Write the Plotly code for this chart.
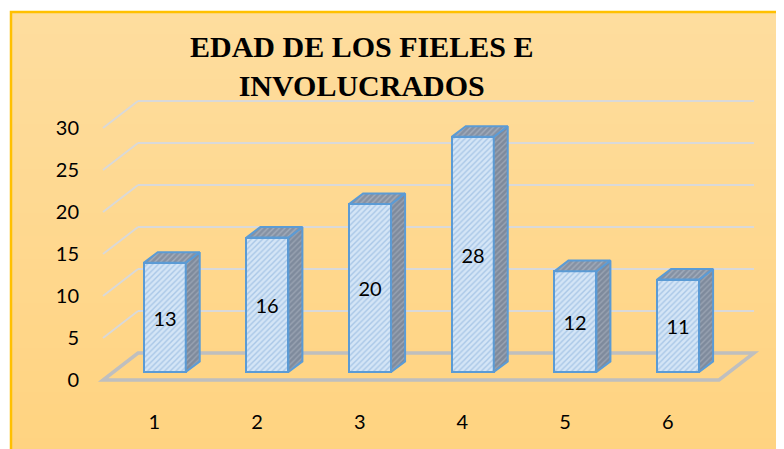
import plotly.graph_objects as go

# ---- data ----
categories = [1, 2, 3, 4, 5, 6]
values = [13, 16, 20, 28, 12, 11]
y_ticks = [0, 5, 10, 15, 20, 25, 30]
title_lines = ["EDAD DE LOS FIELES E", "INVOLUCRADOS"]

# ---- geometry (reference pixel coordinates, page body has an 8px margin) ----
OFF = 8
W, H = 784 - OFF, 449 - OFF
L_PX, R_PX, T_PX, B_PX = 90, 770, 95, 400   # plot area in page px
UX = 102.67     # px per category unit
UY = 8.4        # px per value unit
X0_PX = 103     # x=0.5 position (front floor left)
Y0_PX = 380     # y=0 position (front floor)

xr = [0.5 - (X0_PX - L_PX) / UX, 0.5 + (R_PX - X0_PX) / UX]
yr = [-(B_PX - Y0_PX) / UY, (Y0_PX - T_PX) / UY]

DX = 35 / UX          # depth of floor (x units)
DY = 27 / UY          # depth of floor (y units)
F_OFF_X = 10.4 / UX   # bar front-face offset inside floor depth
F_OFF_Y = 8 / UY
BD_X = 14 / UX        # bar depth
BD_Y = 10.6 / UY
BW = 42 / UX          # bar width


def px_to_paper_x(px):
    return (px - L_PX) / (R_PX - L_PX)


def px_to_paper_y(py):
    return (B_PX - py) / (B_PX - T_PX)


fig = go.Figure()

# side and top faces computed from the values
side_x, side_y, top_x, top_y = [], [], [], []
for c, v in zip(categories, values):
    xc = c + F_OFF_X
    lft, rgt = xc - BW / 2, xc + BW / 2
    b = F_OFF_Y
    side_x += [rgt, rgt + BD_X, rgt + BD_X, rgt, rgt, None]
    side_y += [b, b + BD_Y, b + v + BD_Y, b + v, b, None]
    top_x += [lft, lft + BD_X, rgt + BD_X, rgt, lft, None]
    top_y += [b + v, b + v + BD_Y, b + v + BD_Y, b + v, b + v, None]

fig.add_trace(go.Bar(
    x=[c + F_OFF_X for c in categories],
    y=values,
    base=F_OFF_Y,
    width=BW,
    text=[str(v) for v in values],
    textposition="inside",
    insidetextanchor="middle",
    textangle=0,
    textfont=dict(family="Lato", size=20, color="#000000"),
    marker=dict(
        color="#A9C7E7",
        line=dict(color="#5B9BD5", width=2),
        pattern=dict(shape="/", bgcolor="#D4E5F6", fgcolor="#A9C7E7",
                     size=4, solidity=0.35, fillmode="replace"),
    ),
    hoverinfo="skip",
    showlegend=False,
))

fig.add_trace(go.Scatter(
    x=side_x, y=side_y, mode="lines", fill="toself",
    fillcolor="#7E8A9C",
    fillpattern=dict(shape="/", bgcolor="#7E8A9C", fgcolor="#9AA4B3",
                     size=4, solidity=0.35, fillmode="replace"),
    line=dict(color="#5B9BD5", width=2),
    hoverinfo="skip", showlegend=False,
))
fig.add_trace(go.Scatter(
    x=top_x, y=top_y, mode="lines", fill="toself",
    fillcolor="#8894A6",
    fillpattern=dict(shape="/", bgcolor="#8591A3", fgcolor="#A3ADBC",
                     size=4, solidity=0.35, fillmode="replace"),
    line=dict(color="#5B9BD5", width=2),
    hoverinfo="skip", showlegend=False,
))

shapes = []
# gradient background with gold border
n_bands = 40
top_col = (254, 221, 158)
bot_col = (255, 211, 128)
y_top_px, y_bot_px = 12, 460
for i in range(n_bands):
    t = i / (n_bands - 1)
    col = tuple(round(top_col[k] + (bot_col[k] - top_col[k]) * t) for k in range(3))
    ya = y_top_px + (y_bot_px - y_top_px) * i / n_bands
    yb = y_top_px + (y_bot_px - y_top_px) * (i + 1) / n_bands + 1
    shapes.append(dict(type="rect", xref="paper", yref="paper",
                       x0=px_to_paper_x(11), x1=px_to_paper_x(800),
                       y0=px_to_paper_y(ya), y1=px_to_paper_y(yb),
                       fillcolor="rgb(%d,%d,%d)" % col, line=dict(width=0),
                       layer="below"))
shapes.append(dict(type="rect", xref="paper", yref="paper",
                   x0=px_to_paper_x(11), x1=px_to_paper_x(800),
                   y0=px_to_paper_y(12), y1=px_to_paper_y(470),
                   fillcolor="rgba(0,0,0,0)",
                   line=dict(color="#FFC000", width=2.5), layer="below"))

# back wall gridlines + left wall diagonals
x_front_l, x_front_r = 0.5, len(categories) + 0.5
for v in y_ticks[1:]:
    shapes.append(dict(type="line", xref="x", yref="y",
                       x0=x_front_l + DX, y0=v + DY, x1=x_front_r + DX, y1=v + DY,
                       line=dict(color="#D9D9D9", width=2), layer="below"))
    shapes.append(dict(type="line", xref="x", yref="y",
                       x0=x_front_l, y0=v, x1=x_front_l + DX, y1=v + DY,
                       line=dict(color="#D9D9D9", width=2), layer="below"))
# floor
shapes.append(dict(type="path", xref="x", yref="y",
                   path="M %f,%f L %f,%f L %f,%f L %f,%f Z" % (
                       x_front_l, 0, x_front_r, 0,
                       x_front_r + DX, DY, x_front_l + DX, DY),
                   line=dict(color="#BFBFBF", width=3.5),
                   fillcolor="rgba(0,0,0,0)", layer="below"))

annotations = [dict(
    text="<b>%s</b>" % "<br>".join(title_lines), xref="paper", yref="paper",
    x=px_to_paper_x(361), y=px_to_paper_y(66),
    xanchor="center", yanchor="middle", showarrow=False, align="center",
    font=dict(family="Liberation Serif", size=30, color="#000000"),
)]

fig.update_layout(
    width=W, height=H,
    margin=dict(l=L_PX - OFF, r=784 - R_PX, t=T_PX - OFF, b=449 - B_PX, pad=0),
    paper_bgcolor="#FFFFFF",
    plot_bgcolor="rgba(0,0,0,0)",
    shapes=shapes,
    annotations=annotations,
    bargap=0,
    xaxis=dict(range=xr, tickvals=categories, ticktext=[str(c) for c in categories],
               showgrid=False, zeroline=False, showline=False, ticks="",
               ticklabelstandoff=8,
               tickfont=dict(family="Lato", size=20, color="#000000"),
               fixedrange=True),
    yaxis=dict(range=yr, tickvals=y_ticks, ticktext=[str(v) for v in y_ticks],
               showgrid=False, zeroline=False, showline=False, ticks="",
               ticklabelstandoff=10,
               tickfont=dict(family="Lato", size=20, color="#000000"),
               fixedrange=True),
)

fig.write_html("out.html")
